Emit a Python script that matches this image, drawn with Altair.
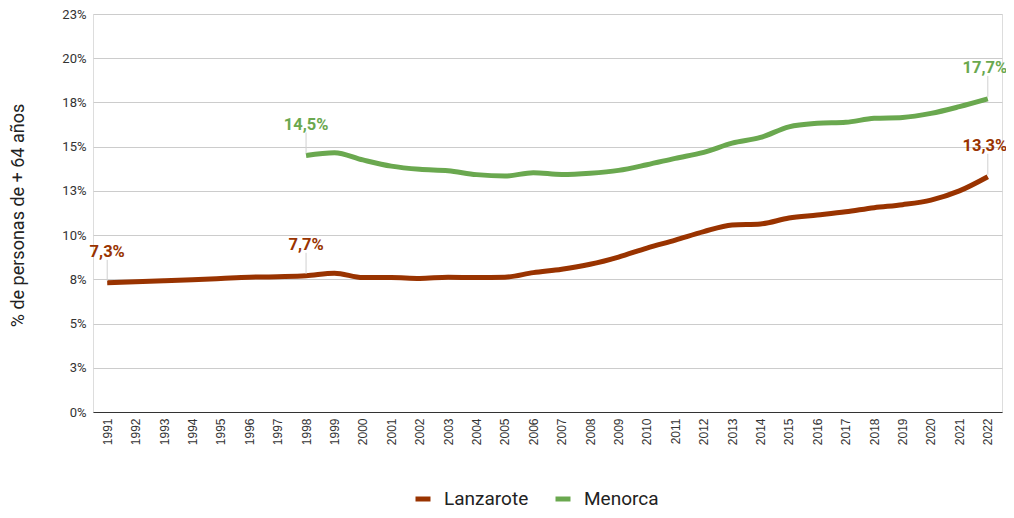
import altair as alt
import pandas as pd

years = list(range(1991, 2023))
lanzarote = [7.3, 7.36, 7.42, 7.48, 7.55, 7.62, 7.65, 7.7, 7.85, 7.6, 7.6, 7.55, 7.62, 7.6, 7.62,
             7.88, 8.07, 8.35, 8.76, 9.27, 9.72, 10.2, 10.57, 10.63, 10.97, 11.14, 11.32, 11.55,
             11.72, 11.98, 12.5, 13.3]
menorca_years = list(range(1998, 2023))
menorca = [14.5, 14.66, 14.25, 13.9, 13.72, 13.64, 13.42, 13.34, 13.53, 13.43, 13.5, 13.66, 13.98,
           14.34, 14.68, 15.2, 15.52, 16.12, 16.32, 16.38, 16.6, 16.65, 16.88, 17.26, 17.7]
series = ["Lanzarote", "Menorca"]
colors = ["#993300", "#6aa84f"]
annotated = [("Lanzarote", 1991), ("Lanzarote", 1998), ("Lanzarote", 2022),
             ("Menorca", 1998), ("Menorca", 2022)]
y_ticks = [0, 2.5, 5, 7.5, 10, 12.5, 15, 17.5, 20, 22.5]

rows = [{"year": str(y), "serie": "Lanzarote", "v": v} for y, v in zip(years, lanzarote)]
rows += [{"year": str(y), "serie": "Menorca", "v": v} for y, v in zip(menorca_years, menorca)]
df = pd.DataFrame(rows)
lab = pd.DataFrame([r for r in rows if (r["serie"], int(r["year"])) in annotated])
lab_mid = lab[lab["year"] != "2022"]
lab_end = lab[lab["year"] == "2022"]

color_scale = alt.Scale(domain=series, range=colors)
x = alt.X("year:O", scale=alt.Scale(type="point", padding=0.5),
          axis=alt.Axis(title=None, labelAngle=-90, labelFont="Liberation Sans", labelFontSize=12,
                        labelColor="#333", ticks=False, domainColor="#333", domainWidth=1.2,
                        labelPadding=6, labelBaseline="middle", labelAlign="right"))
y = alt.Y("v:Q", scale=alt.Scale(domain=[0, 22.5], nice=False),
          axis=alt.Axis(values=y_ticks, labelExpr="round(datum.value) + '%'",
                        title="% de personas de + 64 años", titleFontSize=18, titleFont="Roboto",
                        titleFontWeight="normal", titleColor="#222", titleX=-66, titleY=201,
                        labelFont="Roboto", labelFontSize=13, labelColor="#333", labelPadding=7,
                        domain=False, ticks=False, gridColor="#cccccc", gridWidth=1))

lines = alt.Chart(df).mark_line(strokeWidth=5, interpolate="monotone").encode(
    x=x, y=y,
    color=alt.Color("serie:N", scale=color_scale, sort=series,
                    legend=alt.Legend(title=None, orient="none", legendX=320, legendY=475,
                                      direction="horizontal", symbolType="stroke",
                                      symbolStrokeWidth=5, symbolSize=225, labelFontSize=19,
                                      labelFont="Roboto", labelColor="#222", columnPadding=16,
                                      labelOffset=11)),
)

rules = alt.Chart(lab).mark_rule(color="#d0d0d0", strokeWidth=1, yOffset=-2, y2Offset=-23).encode(
    x=x, y=alt.Y("v:Q"), y2="v:Q")


def text_layer(data, dx):
    return alt.Chart(data).mark_text(fontSize=16.5, fontWeight="bold", font="Roboto",
                                     baseline="alphabetic", dy=-26, dx=dx).transform_calculate(
        t="replace(format(datum.v, '.1f'), '.', ',') + '%'"
    ).encode(x=x, y=alt.Y("v:Q"), text="t:N",
             color=alt.Color("serie:N", scale=color_scale, legend=None))


texts_mid = text_layer(lab_mid, 0)
texts_end = text_layer(lab_end, -3)

chart = alt.layer(lines, rules, texts_mid, texts_end).properties(
    width=909, height=398,
    autosize=alt.AutoSizeParams(type="none"),
    padding={"left": 85, "top": 6, "right": 4, "bottom": 98},
).configure_view(stroke=None).configure(font="Roboto")

chart.save("out.html", embed_options={"renderer": "svg", "actions": False})
